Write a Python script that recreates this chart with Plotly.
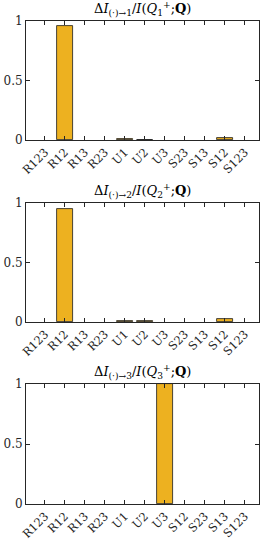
import plotly.graph_objects as go

cats_12 = ["R123", "R12", "R13", "R23", "U1", "U2", "U3", "S23", "S13", "S12", "S123"]
cats_3 = ["R123", "R12", "R13", "R23", "U1", "U2", "U3", "S12", "S23", "S13", "S123"]
vals_1 = [0.0, 0.955, 0.0, 0.0, 0.012, 0.004, 0.0, 0.0, 0.0, 0.02, 0.0]
vals_2 = [0.0, 0.952, 0.0, 0.0, 0.01, 0.008, 0.0, 0.0, 0.0, 0.024, 0.0]
vals_3 = [0.0, 0.0, 0.0, 0.0, 0.0, 0.0, 1.0, 0.0, 0.0, 0.0, 0.0]
titles = [
    "Δ<i>I</i><sub>(·)→1</sub>/<i>I</i>(<i>Q</i><sub>1</sub><sup>+</sup>;<b>Q</b>)",
    "Δ<i>I</i><sub>(·)→2</sub>/<i>I</i>(<i>Q</i><sub>2</sub><sup>+</sup>;<b>Q</b>)",
    "Δ<i>I</i><sub>(·)→3</sub>/<i>I</i>(<i>Q</i><sub>3</sub><sup>+</sup>;<b>Q</b>)",
]
y_ticks = [0, 0.5, 1]
y_tick_text = ["0", "0.5", "1"]

W, H = 266, 542
panels = [(21, 140), (203, 322), (384, 504)]
xdom = [26 / W, 259.3 / W]
FONT = "DejaVu Serif"
BAR = "#EDB120"
AX = "#262626"

fig = go.Figure()
data = [(cats_12, vals_1), (cats_12, vals_2), (cats_3, vals_3)]
for i, ((cats, vals), (top, bot)) in enumerate(zip(data, panels)):
    n = "" if i == 0 else str(i + 1)
    fig.add_trace(go.Bar(
        x=list(range(len(cats))), y=vals, width=0.8,
        marker=dict(color=BAR, line=dict(color="#1a1a1a",
                                         width=[0.8 if v > 0 else 0 for v in vals])),
        xaxis="x" + n, yaxis="y" + n, showlegend=False,
    ))
    ydom = [1 - bot / H, 1 - top / H]
    fig.update_layout(**{
        "xaxis" + n: dict(
            domain=xdom, anchor="y" + n, range=[-0.95, 10.72], automargin=False,
            tickvals=list(range(len(cats))), ticktext=cats, tickangle=-45,
            ticks="inside", ticklen=4, tickcolor=AX, showline=True, linecolor=AX,
            linewidth=1, mirror="ticks", showgrid=False, zeroline=False,
            tickfont=dict(family=FONT, size=11.5, color="#262626"),
        ),
        "yaxis" + n: dict(
            domain=ydom, anchor="x" + n, range=[0, 1], automargin=False,
            tickvals=y_ticks, ticktext=y_tick_text,
            ticks="inside", ticklen=4, tickcolor=AX, showline=True, linecolor=AX,
            linewidth=1, mirror="ticks", showgrid=False, zeroline=False,
            tickfont=dict(family=FONT, size=12, color="#262626"),
        ),
    })
    fig.add_annotation(
        text=titles[i], xref="paper", yref="paper",
        x=(xdom[0] + xdom[1]) / 2, y=1 - top / H + 1 / H,
        xanchor="center", yanchor="bottom", showarrow=False,
        font=dict(family=FONT, size=13, color="black"),
    )

fig.update_layout(
    width=W, height=H, margin=dict(l=0, r=0, t=0, b=0, autoexpand=False),
    paper_bgcolor="white", plot_bgcolor="white", bargap=0,
    font=dict(family=FONT),
)
fig.write_html("out.html", config={"displayModeBar": False},
               post_script="document.body.style.margin='0';")
